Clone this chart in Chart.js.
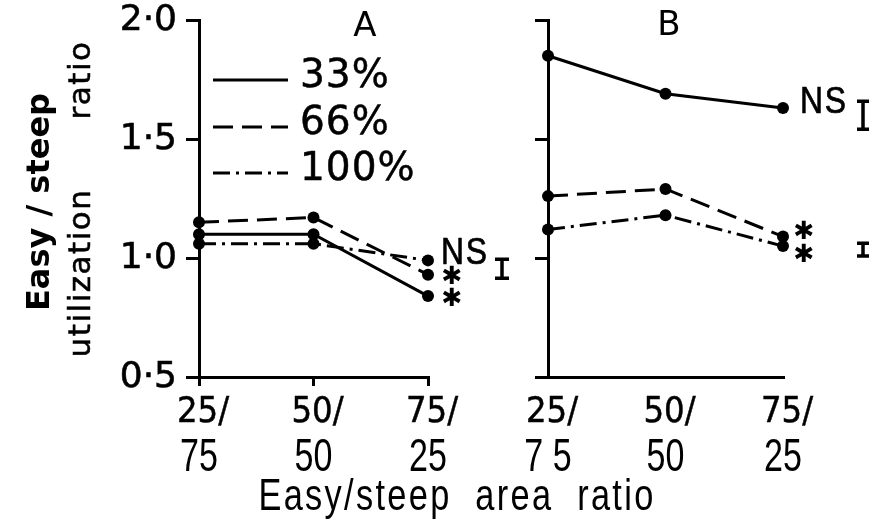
<!DOCTYPE html>
<html><head><meta charset="utf-8">
<script src="https://cdn.jsdelivr.net/npm/chart.js@4"></script>
<style>html,body{margin:0;padding:0;background:#fff;overflow:hidden}
canvas{position:absolute;left:0;top:0}</style></head>
<body>
<canvas id="ca" width="874" height="526"></canvas>
<canvas id="cb" width="874" height="526"></canvas>
<script>
// ---- data ----
const categories = ['25/75', '50/50', '75/25'];
const topLabels = ['25/', '50/', '75/'];
const bottomLabelsA = ['75', '50', '25'];
const bottomLabelsB = ['7 5', '50', '25'];
const seriesNames = ['33%', '66%', '100%'];
const yTickValues = [0.5, 1.0, 1.5, 2.0];
const a33 = [1.10, 1.10, 0.84];
const a66 = [1.15, 1.17, 0.93];
const a100 = [1.06, 1.06, 0.99];
const b33 = [1.85, 1.69, 1.63];
const b66 = [1.26, 1.29, 1.09];
const b100 = [1.12, 1.18, 1.05];
// significance markers at 75/25 for each series [33%, 66%, 100%]
const sigA = ['*', '*', 'NS'];
const sigB = ['NS', '*', '*'];
// error bars: centre value and half-length (ratio units)
const errA = [{c: 0.955, h: 0.046}];
const errB = [{c: 1.60, h: 0.065}, {c: 1.035, h: 0.033}];

const dashes = [[], [20, 9], [17, 6, 3, 6]];
const BLACK = '#000';

function mkDatasets(arrs) {
  return arrs.map((d, i) => ({
    label: seriesNames[i], data: d, borderColor: BLACK, backgroundColor: BLACK,
    borderWidth: 3, borderDash: dashes[i], pointRadius: 6, pointHoverRadius: 6,
    pointBackgroundColor: BLACK, pointBorderWidth: 0, tension: 0, clip: false
  }));
}

function txt(ctx, s, x, y, font, align, spacing, sx, stroke) {
  ctx.save();
  ctx.translate(x, y); ctx.scale(sx || 1, 1);
  ctx.font = font; ctx.fillStyle = BLACK; ctx.strokeStyle = BLACK;
  ctx.textAlign = align || 'center'; ctx.textBaseline = 'middle';
  try { ctx.letterSpacing = (spacing || 0) + 'px'; } catch (e) {}
  ctx.fillText(s, 0, 0);
  if (stroke) { ctx.lineWidth = stroke; ctx.strokeText(s, 0, 0); }
  ctx.restore();
}
function rtxt(ctx, s, x, y, font, spacing, stroke) {
  ctx.save();
  ctx.translate(x, y); ctx.rotate(-Math.PI / 2);
  ctx.font = font; ctx.fillStyle = BLACK; ctx.strokeStyle = BLACK; ctx.textAlign = 'center'; ctx.textBaseline = 'middle';
  try { ctx.letterSpacing = (spacing || 0) + 'px'; } catch (e) {}
  ctx.fillText(s, 0, 0);
  if (stroke) { ctx.lineWidth = stroke; ctx.strokeText(s, 0, 0); }
  ctx.restore();
}
function errBar(ctx, x, yScale, e, cap) {
  const y1 = yScale.getPixelForValue(e.c + e.h), y2 = yScale.getPixelForValue(e.c - e.h);
  ctx.save(); ctx.strokeStyle = BLACK; ctx.lineWidth = 3.5; ctx.lineCap = 'butt';
  ctx.beginPath();
  ctx.moveTo(x, y1); ctx.lineTo(x, y2);
  ctx.moveTo(x - cap, y1 + 1.5); ctx.lineTo(x + cap, y1 + 1.5);
  ctx.moveTo(x - cap, y2 - 1.5); ctx.lineTo(x + cap, y2 - 1.5);
  ctx.stroke(); ctx.restore();
}
const NARROW = '"Liberation Sans",Arial,sans-serif';
const SANS = '"DejaVu Sans",sans-serif';

function drawXLabels(ctx, xs, bottoms) {
  topLabels.forEach((l, i) => {
    const x = xs.getPixelForValue(i);
    txt(ctx, l, x + 4, 413, '36px ' + SANS, 'center', 0, 0.9, 0.5);
    txt(ctx, bottoms[i], x, 458, '46px ' + NARROW, 'center', 0, 0.74);
  });
}

function scalesFor(panel) {
  const isA = panel === 'A';
  return {
    x: {
      type: 'category', labels: categories, offset: false,
      ticks: {display: false},
      grid: {display: true, drawOnChartArea: false, drawTicks: isA, tickLength: 9, color: BLACK, lineWidth: 3},
      border: {display: true, color: BLACK, width: 3},
      afterFit: s => { s.height = 149; }
    },
    y: {
      min: 0.5, max: 2.0,
      afterBuildTicks: s => { s.ticks = yTickValues.map(v => ({value: v})); },
      ticks: {display: false},
      grid: {display: true, drawOnChartArea: false, drawTicks: true, tickLength: 13, color: BLACK, lineWidth: 3},
      border: {display: true, color: BLACK, width: 3},
      afterFit: s => { s.width = isA ? 199 : 548; }
    }
  };
}

const basePlugins = {legend: {display: false}, tooltip: {enabled: false}, title: {display: false}};

const panelA = {
  id: 'panelA',
  afterDraw(chart) {
    const ctx = chart.ctx, xs = chart.scales.x, ys = chart.scales.y;
    // y tick labels
    yTickValues.forEach(v => {
      txt(ctx, v.toFixed(1).replace('.', '\u00B7'), 177, ys.getPixelForValue(v) + 1, '36px ' + SANS, 'right', 0, 1, 0.6);
    });
    // y axis title
    rtxt(ctx, 'Easy / steep', 41, 202, 'bold 32px ' + SANS, 0);
    rtxt(ctx, 'utilization', 82, 273, '31px ' + SANS, 1.5, 0.5);
    rtxt(ctx, 'ratio', 82, 80, '31px ' + SANS, 1.5, 0.5);
    // panel letter
    txt(ctx, 'A', 365, 27, '34px ' + SANS);
    // legend
    const ly = [80, 127, 173];
    ly.forEach((y, i) => {
      ctx.save(); ctx.strokeStyle = BLACK; ctx.lineWidth = 3; ctx.setLineDash(dashes[i]);
      ctx.beginPath(); ctx.moveTo(213, y); ctx.lineTo(288, y); ctx.stroke(); ctx.restore();
      txt(ctx, seriesNames[i], 300, y - 3, '39px ' + SANS, 'left', 1, 1, 0.5);
    });
    // x labels + title
    drawXLabels(ctx, xs, bottomLabelsA);
    txt(ctx, 'Easy/steep  area  ratio', 457, 498, '44px ' + NARROW, 'center', 3, 0.78);
    // significance
    const ends = [a33[2], a66[2], a100[2]];
    ends.forEach((v, i) => {
      const y = ys.getPixelForValue(v);
      if (sigA[i] === 'NS') txt(ctx, 'NS', 441, y - 7, '37px ' + NARROW, 'left', 2, 0.86, 0.7);
      else txt(ctx, '\u2731', 452, y + 3, 'bold 25px ' + SANS);
    });
    errA.forEach(e => errBar(ctx, 502, ys, e, 7));
  }
};

const panelB = {
  id: 'panelB',
  afterDraw(chart) {
    const ctx = chart.ctx, xs = chart.scales.x, ys = chart.scales.y;
    txt(ctx, 'B', 669, 26, '34px ' + SANS);
    drawXLabels(ctx, xs, bottomLabelsB);
    const ends = [b33[2], b66[2], b100[2]];
    const off = [-5, -4, 9];
    ends.forEach((v, i) => {
      const y = ys.getPixelForValue(v);
      if (sigB[i] === 'NS') txt(ctx, 'NS', 800, y + off[i], '37px ' + NARROW, 'left', 2, 0.86, 0.7);
      else txt(ctx, '\u2731', 804, y + off[i], 'bold 25px ' + SANS);
    });
    errB.forEach(e => errBar(ctx, 863, ys, e, 6));
  }
};

new Chart(document.getElementById('ca'), {
  type: 'line',
  data: {labels: categories, datasets: mkDatasets([a33, a66, a100])},
  options: {
    responsive: false, animation: false, events: [],
    layout: {padding: {left: 0, top: 20, right: 874 - 428, bottom: 0}},
    scales: scalesFor('A'), plugins: basePlugins
  },
  plugins: [panelA]
});
new Chart(document.getElementById('cb'), {
  type: 'line',
  data: {labels: categories, datasets: mkDatasets([b33, b66, b100])},
  options: {
    responsive: false, animation: false, events: [],
    layout: {padding: {left: 0, top: 20, right: 874 - 783, bottom: 0}},
    scales: scalesFor('B'), plugins: basePlugins
  },
  plugins: [panelB]
});
</script>
</body></html>
